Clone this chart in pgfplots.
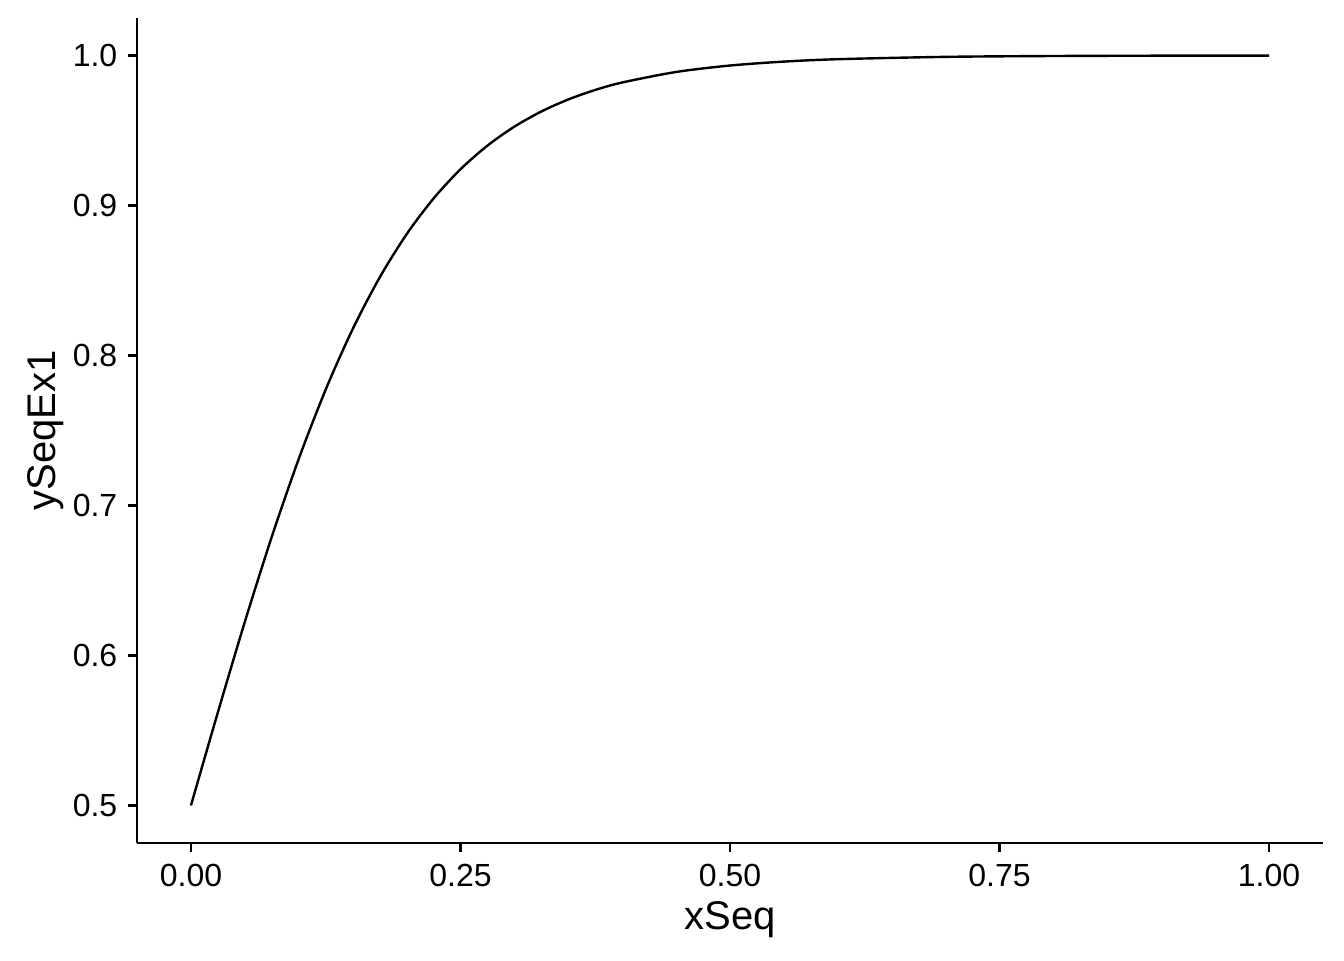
\documentclass[border=0pt]{standalone}
\usepackage{fontspec}
\setmainfont{Liberation Sans}
\usepackage{pgfplots}
\pgfplotsset{compat=1.18}
\usetikzlibrary{calc}
\begin{document}
\begin{tikzpicture}
\begin{axis}[
  scale only axis,
  width=444.75pt, height=309.4pt,
  xmin=-0.05, xmax=1.05, ymin=0.475, ymax=1.025,
  axis x line*=bottom, axis y line*=left,
  axis line style={line width=0.85pt, -},
  every tick/.style={line width=0.85pt, black},
  tick align=outside, major tick length=3.4pt,
  xtick={0,0.25,0.5,0.75,1}, xticklabels={0.00,0.25,0.50,0.75,1.00},
  ytick={0.5,0.6,0.7,0.8,0.9,1.0}, yticklabels={0.5,0.6,0.7,0.8,0.9,1.0},
  tick label style={font=\fontsize{12}{14}\selectfont, black},
  xticklabel style={yshift=-1pt},
  yticklabel style={xshift=-0.5pt},
  xlabel={xSeq}, ylabel={ySeqEx1},
  label style={font=\fontsize{15}{18}\selectfont},
  xlabel style={at={(axis description cs:0.5,-0.0933)}, anchor=center},
  ylabel style={at={(axis description cs:-0.0767,0.5)}, anchor=center, rotate=0},
  clip=false,
]
\addplot[black, line width=0.9pt, smooth] coordinates {
(0,0.5) (0.025,0.56218) (0.05,0.62246) (0.075,0.67918) (0.1,0.73106)
(0.125,0.77730) (0.15,0.81757) (0.175,0.85195) (0.2,0.88080) (0.225,0.90465)
(0.25,0.92414) (0.275,0.93991) (0.3,0.95257) (0.325,0.96267) (0.35,0.97069)
(0.375,0.97702) (0.4,0.98201) (0.45,0.98901) (0.5,0.99331) (0.55,0.99593)
(0.6,0.99753) (0.7,0.99909) (0.8,0.99966) (0.9,0.99988) (1.0,0.99995)
};
\end{axis}
\pgfresetboundingbox
\path ($(current axis.south west)+(-51.4pt,-43.9pt)$) rectangle ($(current axis.north east)+(7.9pt,6.75pt)$);
\end{tikzpicture}
\end{document}
